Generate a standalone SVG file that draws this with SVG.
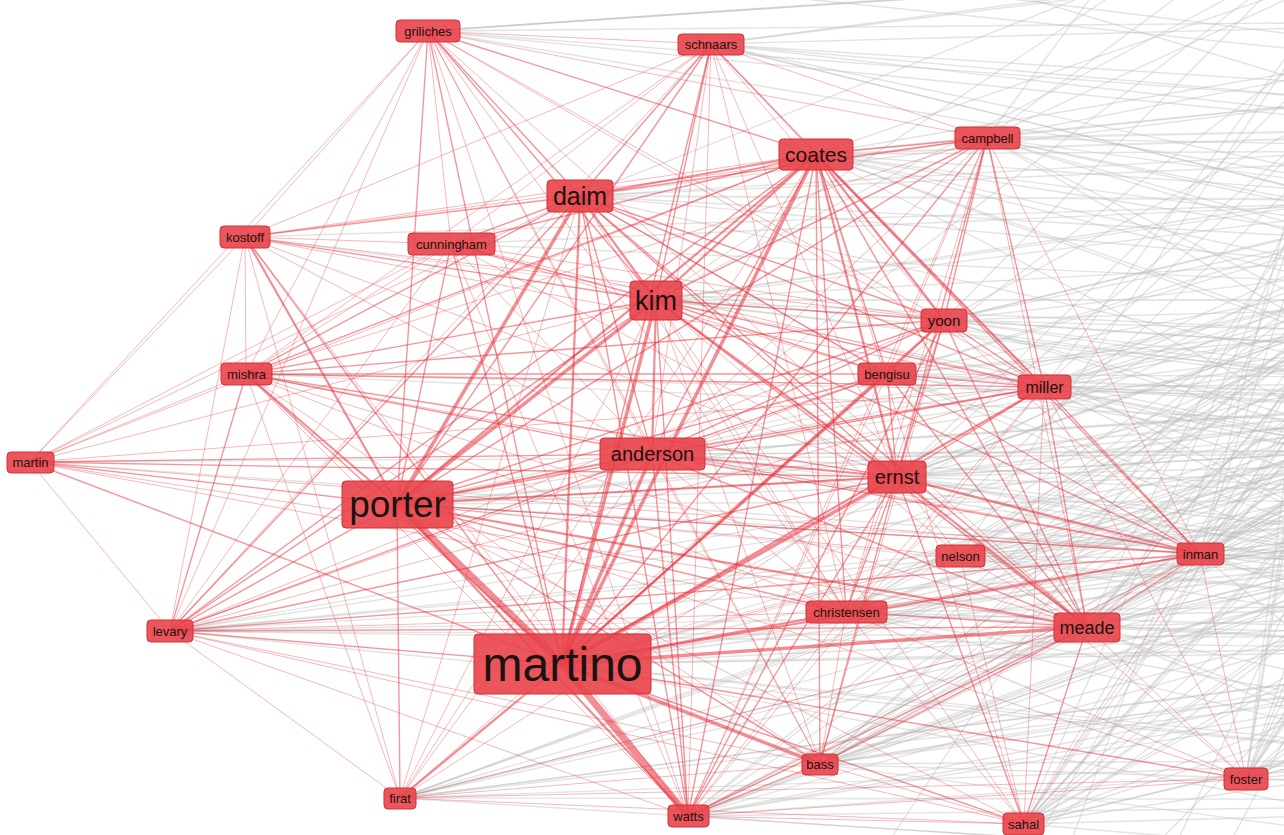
<svg xmlns="http://www.w3.org/2000/svg" width="1284" height="835" viewBox="0 0 1284 835">
<style>
.g{stroke:#bcbcbc;stroke-opacity:.42;stroke-width:1.4;fill:none}
.gw{stroke:#bcbcbc;stroke-opacity:.38;stroke-width:2.2;fill:none}
line.r1,line.r2,line.r3,line.r4,line.r5{stroke:#e8303a;fill:none}
.r1{stroke-width:1;stroke-opacity:.34}
.r2{stroke-width:1.4;stroke-opacity:.5}
.r3{stroke-width:2.2;stroke-opacity:.55}
.r4{stroke-width:3.5;stroke-opacity:.55}
.r5{stroke-width:7;stroke-opacity:.55}
.node rect{fill:#e8444a;fill-opacity:.9;stroke:#d52f36;stroke-width:1}
.node text{font-family:"Liberation Sans",Arial,sans-serif;fill:#1c1212;text-anchor:middle;dominant-baseline:central}
</style>
<rect width="1284" height="835" fill="#ffffff"/>
<g id="connectors">
<g id="outer-links">
<line class="g" x1="428" y1="31" x2="1350" y2="-30"/><line class="g" x1="428" y1="31" x2="1600" y2="20"/><line class="g" x1="428" y1="31" x2="1200" y2="-20"/><line class="g" x1="428" y1="31" x2="1450" y2="200"/><line class="g" x1="428" y1="31" x2="1100" y2="-15"/><line class="g" x1="428" y1="31" x2="1650" y2="150"/><line class="g" x1="428" y1="31" x2="1350" y2="100"/>
<line class="g" x1="711" y1="44" x2="1600" y2="20"/><line class="g" x1="711" y1="44" x2="1900" y2="120"/><line class="g" x1="711" y1="44" x2="1450" y2="200"/><line class="g" x1="711" y1="44" x2="1550" y2="-60"/><line class="g" x1="711" y1="44" x2="1750" y2="300"/><line class="g" x1="711" y1="44" x2="1200" y2="-20"/><line class="g" x1="711" y1="44" x2="1650" y2="150"/><line class="g" x1="711" y1="44" x2="1550" y2="250"/><line class="g" x1="711" y1="44" x2="1350" y2="100"/>
<line class="g" x1="987" y1="138" x2="1350" y2="-30"/><line class="g" x1="987" y1="138" x2="1600" y2="20"/><line class="gw" x1="987" y1="138" x2="1900" y2="120"/><line class="g" x1="987" y1="138" x2="1450" y2="200"/><line class="g" x1="987" y1="138" x2="1750" y2="300"/><line class="g" x1="987" y1="138" x2="1500" y2="400"/><line class="g" x1="987" y1="138" x2="2000" y2="450"/><line class="g" x1="987" y1="138" x2="1200" y2="-20"/><line class="g" x1="987" y1="138" x2="1100" y2="-15"/><line class="g" x1="987" y1="138" x2="1650" y2="150"/><line class="g" x1="987" y1="138" x2="1550" y2="250"/><line class="g" x1="987" y1="138" x2="1850" y2="380"/><line class="g" x1="987" y1="138" x2="1320" y2="330"/><line class="g" x1="987" y1="138" x2="1350" y2="100"/>
<line class="g" x1="816" y1="154" x2="1600" y2="20"/><line class="gw" x1="816" y1="154" x2="1900" y2="120"/><line class="g" x1="816" y1="154" x2="1450" y2="200"/><line class="g" x1="816" y1="154" x2="1750" y2="300"/><line class="g" x1="816" y1="154" x2="1500" y2="400"/><line class="g" x1="816" y1="154" x2="2000" y2="450"/><line class="g" x1="816" y1="154" x2="1350" y2="-30"/><line class="g" x1="816" y1="154" x2="1650" y2="150"/><line class="g" x1="816" y1="154" x2="1550" y2="250"/><line class="g" x1="816" y1="154" x2="1850" y2="380"/><line class="g" x1="816" y1="154" x2="1320" y2="330"/><line class="g" x1="816" y1="154" x2="1350" y2="100"/><line class="g" x1="816" y1="154" x2="1380" y2="450"/>
<line class="g" x1="580" y1="196" x2="1900" y2="120"/><line class="gw" x1="580" y1="196" x2="1450" y2="200"/><line class="g" x1="580" y1="196" x2="1750" y2="300"/><line class="g" x1="580" y1="196" x2="1500" y2="400"/><line class="g" x1="580" y1="196" x2="1150" y2="-30"/><line class="g" x1="580" y1="196" x2="1650" y2="150"/><line class="g" x1="580" y1="196" x2="1550" y2="250"/><line class="g" x1="580" y1="196" x2="1350" y2="100"/>
<line class="g" x1="656" y1="300" x2="1450" y2="200"/><line class="gw" x1="656" y1="300" x2="1750" y2="300"/><line class="g" x1="656" y1="300" x2="1500" y2="400"/><line class="g" x1="656" y1="300" x2="2000" y2="450"/><line class="g" x1="656" y1="300" x2="1900" y2="120"/><line class="g" x1="656" y1="300" x2="1150" y2="-30"/><line class="g" x1="656" y1="300" x2="1300" y2="-40"/><line class="g" x1="656" y1="300" x2="1650" y2="150"/><line class="g" x1="656" y1="300" x2="1550" y2="250"/><line class="g" x1="656" y1="300" x2="1850" y2="380"/><line class="g" x1="656" y1="300" x2="1320" y2="330"/><line class="g" x1="656" y1="300" x2="1380" y2="450"/>
<line class="g" x1="944" y1="320" x2="1900" y2="120"/><line class="g" x1="944" y1="320" x2="1450" y2="200"/><line class="g" x1="944" y1="320" x2="1750" y2="300"/><line class="g" x1="944" y1="320" x2="1500" y2="400"/><line class="g" x1="944" y1="320" x2="2000" y2="450"/><line class="g" x1="944" y1="320" x2="1400" y2="560"/><line class="g" x1="944" y1="320" x2="1300" y2="-40"/><line class="g" x1="944" y1="320" x2="1650" y2="150"/><line class="g" x1="944" y1="320" x2="1550" y2="250"/><line class="g" x1="944" y1="320" x2="1850" y2="380"/><line class="g" x1="944" y1="320" x2="1600" y2="500"/><line class="g" x1="944" y1="320" x2="1320" y2="330"/><line class="g" x1="944" y1="320" x2="1350" y2="100"/><line class="g" x1="944" y1="320" x2="1380" y2="450"/>
<line class="g" x1="887" y1="374" x2="1450" y2="200"/><line class="g" x1="887" y1="374" x2="1750" y2="300"/><line class="gw" x1="887" y1="374" x2="1500" y2="400"/><line class="g" x1="887" y1="374" x2="2000" y2="450"/><line class="g" x1="887" y1="374" x2="1400" y2="560"/><line class="g" x1="887" y1="374" x2="1420" y2="-30"/><line class="g" x1="887" y1="374" x2="1650" y2="150"/><line class="g" x1="887" y1="374" x2="1550" y2="250"/><line class="g" x1="887" y1="374" x2="1850" y2="380"/><line class="g" x1="887" y1="374" x2="1600" y2="500"/><line class="g" x1="887" y1="374" x2="1320" y2="330"/><line class="g" x1="887" y1="374" x2="1380" y2="450"/><line class="g" x1="887" y1="374" x2="1550" y2="650"/>
<line class="g" x1="1044" y1="387" x2="1350" y2="-30"/><line class="g" x1="1044" y1="387" x2="1900" y2="120"/><line class="g" x1="1044" y1="387" x2="1450" y2="200"/><line class="g" x1="1044" y1="387" x2="1750" y2="300"/><line class="g" x1="1044" y1="387" x2="1500" y2="400"/><line class="g" x1="1044" y1="387" x2="2000" y2="450"/><line class="g" x1="1044" y1="387" x2="1400" y2="560"/><line class="g" x1="1044" y1="387" x2="1800" y2="640"/><line class="g" x1="1044" y1="387" x2="1650" y2="150"/><line class="g" x1="1044" y1="387" x2="1550" y2="250"/><line class="g" x1="1044" y1="387" x2="1850" y2="380"/><line class="g" x1="1044" y1="387" x2="1600" y2="500"/><line class="g" x1="1044" y1="387" x2="1950" y2="600"/><line class="g" x1="1044" y1="387" x2="1320" y2="330"/><line class="g" x1="1044" y1="387" x2="1350" y2="100"/><line class="g" x1="1044" y1="387" x2="1380" y2="450"/>
<line class="g" x1="652" y1="454" x2="1750" y2="300"/><line class="gw" x1="652" y1="454" x2="1500" y2="400"/><line class="g" x1="652" y1="454" x2="2000" y2="450"/><line class="g" x1="652" y1="454" x2="1400" y2="560"/><line class="g" x1="652" y1="454" x2="1800" y2="640"/><line class="g" x1="652" y1="454" x2="1300" y2="-40"/><line class="g" x1="652" y1="454" x2="1550" y2="250"/><line class="g" x1="652" y1="454" x2="1850" y2="380"/><line class="g" x1="652" y1="454" x2="1600" y2="500"/><line class="g" x1="652" y1="454" x2="1950" y2="600"/><line class="g" x1="652" y1="454" x2="1320" y2="330"/><line class="g" x1="652" y1="454" x2="1380" y2="450"/>
<line class="g" x1="897" y1="477" x2="1900" y2="120"/><line class="g" x1="897" y1="477" x2="1750" y2="300"/><line class="gw" x1="897" y1="477" x2="1500" y2="400"/><line class="g" x1="897" y1="477" x2="2000" y2="450"/><line class="g" x1="897" y1="477" x2="1400" y2="560"/><line class="g" x1="897" y1="477" x2="1800" y2="640"/><line class="g" x1="897" y1="477" x2="1420" y2="-30"/><line class="g" x1="897" y1="477" x2="1650" y2="150"/><line class="g" x1="897" y1="477" x2="1550" y2="250"/><line class="g" x1="897" y1="477" x2="1850" y2="380"/><line class="g" x1="897" y1="477" x2="1600" y2="500"/><line class="g" x1="897" y1="477" x2="1950" y2="600"/><line class="g" x1="897" y1="477" x2="1550" y2="650"/><line class="g" x1="897" y1="477" x2="1320" y2="330"/><line class="g" x1="897" y1="477" x2="1350" y2="100"/><line class="g" x1="897" y1="477" x2="1380" y2="450"/>
<line class="gw" x1="397" y1="504" x2="1500" y2="400"/><line class="g" x1="397" y1="504" x2="2000" y2="450"/><line class="g" x1="397" y1="504" x2="1400" y2="560"/><line class="g" x1="397" y1="504" x2="1800" y2="640"/><line class="g" x1="397" y1="504" x2="1750" y2="300"/><line class="g" x1="397" y1="504" x2="1550" y2="250"/><line class="g" x1="397" y1="504" x2="1850" y2="380"/><line class="g" x1="397" y1="504" x2="1600" y2="500"/><line class="g" x1="397" y1="504" x2="1950" y2="600"/><line class="g" x1="397" y1="504" x2="1380" y2="450"/>
<line class="g" x1="960" y1="556" x2="1450" y2="200"/><line class="g" x1="960" y1="556" x2="1750" y2="300"/><line class="g" x1="960" y1="556" x2="1500" y2="400"/><line class="g" x1="960" y1="556" x2="2000" y2="450"/><line class="g" x1="960" y1="556" x2="1400" y2="560"/><line class="g" x1="960" y1="556" x2="1800" y2="640"/><line class="g" x1="960" y1="556" x2="1350" y2="-30"/><line class="g" x1="960" y1="556" x2="1650" y2="150"/><line class="g" x1="960" y1="556" x2="1550" y2="250"/><line class="g" x1="960" y1="556" x2="1850" y2="380"/><line class="g" x1="960" y1="556" x2="1600" y2="500"/><line class="g" x1="960" y1="556" x2="1950" y2="600"/><line class="g" x1="960" y1="556" x2="1550" y2="650"/><line class="g" x1="960" y1="556" x2="1320" y2="330"/><line class="g" x1="960" y1="556" x2="1380" y2="450"/>
<line class="g" x1="1200" y1="554" x2="1350" y2="-30"/><line class="g" x1="1200" y1="554" x2="1600" y2="20"/><line class="g" x1="1200" y1="554" x2="1450" y2="200"/><line class="g" x1="1200" y1="554" x2="1750" y2="300"/><line class="g" x1="1200" y1="554" x2="1500" y2="400"/><line class="g" x1="1200" y1="554" x2="2000" y2="450"/><line class="g" x1="1200" y1="554" x2="1400" y2="560"/><line class="g" x1="1200" y1="554" x2="1800" y2="640"/><line class="g" x1="1200" y1="554" x2="1450" y2="760"/><line class="g" x1="1200" y1="554" x2="1900" y2="120"/><line class="g" x1="1200" y1="554" x2="1650" y2="150"/><line class="g" x1="1200" y1="554" x2="1550" y2="250"/><line class="g" x1="1200" y1="554" x2="1850" y2="380"/><line class="g" x1="1200" y1="554" x2="1600" y2="500"/><line class="g" x1="1200" y1="554" x2="1950" y2="600"/><line class="g" x1="1200" y1="554" x2="1550" y2="650"/><line class="g" x1="1200" y1="554" x2="1900" y2="800"/><line class="g" x1="1200" y1="554" x2="1320" y2="330"/><line class="g" x1="1200" y1="554" x2="1350" y2="100"/><line class="g" x1="1200" y1="554" x2="1380" y2="450"/>
<line class="g" x1="846" y1="612" x2="1450" y2="200"/><line class="g" x1="846" y1="612" x2="1750" y2="300"/><line class="g" x1="846" y1="612" x2="1500" y2="400"/><line class="g" x1="846" y1="612" x2="2000" y2="450"/><line class="gw" x1="846" y1="612" x2="1400" y2="560"/><line class="g" x1="846" y1="612" x2="1800" y2="640"/><line class="g" x1="846" y1="612" x2="1450" y2="760"/><line class="g" x1="846" y1="612" x2="1550" y2="-60"/><line class="g" x1="846" y1="612" x2="1650" y2="150"/><line class="g" x1="846" y1="612" x2="1550" y2="250"/><line class="g" x1="846" y1="612" x2="1850" y2="380"/><line class="g" x1="846" y1="612" x2="1600" y2="500"/><line class="g" x1="846" y1="612" x2="1950" y2="600"/><line class="g" x1="846" y1="612" x2="1550" y2="650"/><line class="g" x1="846" y1="612" x2="1900" y2="800"/><line class="g" x1="846" y1="612" x2="1320" y2="330"/><line class="g" x1="846" y1="612" x2="1380" y2="450"/>
<line class="g" x1="1087" y1="627" x2="1450" y2="200"/><line class="g" x1="1087" y1="627" x2="1750" y2="300"/><line class="g" x1="1087" y1="627" x2="1500" y2="400"/><line class="g" x1="1087" y1="627" x2="2000" y2="450"/><line class="g" x1="1087" y1="627" x2="1400" y2="560"/><line class="g" x1="1087" y1="627" x2="1800" y2="640"/><line class="g" x1="1087" y1="627" x2="1450" y2="760"/><line class="g" x1="1087" y1="627" x2="1700" y2="880"/><line class="g" x1="1087" y1="627" x2="1900" y2="120"/><line class="g" x1="1087" y1="627" x2="1600" y2="20"/><line class="g" x1="1087" y1="627" x2="1650" y2="150"/><line class="g" x1="1087" y1="627" x2="1550" y2="250"/><line class="g" x1="1087" y1="627" x2="1850" y2="380"/><line class="g" x1="1087" y1="627" x2="1600" y2="500"/><line class="g" x1="1087" y1="627" x2="1950" y2="600"/><line class="g" x1="1087" y1="627" x2="1550" y2="650"/><line class="g" x1="1087" y1="627" x2="1900" y2="800"/><line class="g" x1="1087" y1="627" x2="1320" y2="330"/><line class="g" x1="1087" y1="627" x2="1350" y2="100"/><line class="g" x1="1087" y1="627" x2="1380" y2="450"/>
<line class="g" x1="170" y1="631" x2="2000" y2="450"/><line class="g" x1="170" y1="631" x2="1400" y2="560"/><line class="g" x1="170" y1="631" x2="1800" y2="640"/><line class="g" x1="170" y1="631" x2="1450" y2="760"/><line class="g" x1="170" y1="631" x2="1500" y2="400"/><line class="g" x1="170" y1="631" x2="1600" y2="500"/><line class="g" x1="170" y1="631" x2="1950" y2="600"/><line class="g" x1="170" y1="631" x2="1550" y2="650"/><line class="g" x1="170" y1="631" x2="1380" y2="450"/>
<line class="g" x1="562" y1="664" x2="1500" y2="400"/><line class="g" x1="562" y1="664" x2="2000" y2="450"/><line class="gw" x1="562" y1="664" x2="1400" y2="560"/><line class="gw" x1="562" y1="664" x2="1800" y2="640"/><line class="g" x1="562" y1="664" x2="1450" y2="760"/><line class="g" x1="562" y1="664" x2="1700" y2="880"/><line class="g" x1="562" y1="664" x2="1750" y2="300"/><line class="g" x1="562" y1="664" x2="1450" y2="200"/><line class="g" x1="562" y1="664" x2="1550" y2="250"/><line class="g" x1="562" y1="664" x2="1850" y2="380"/><line class="g" x1="562" y1="664" x2="1600" y2="500"/><line class="g" x1="562" y1="664" x2="1950" y2="600"/><line class="g" x1="562" y1="664" x2="1550" y2="650"/><line class="g" x1="562" y1="664" x2="1900" y2="800"/><line class="g" x1="562" y1="664" x2="1380" y2="450"/>
<line class="g" x1="820" y1="764" x2="1750" y2="300"/><line class="g" x1="820" y1="764" x2="1500" y2="400"/><line class="g" x1="820" y1="764" x2="2000" y2="450"/><line class="g" x1="820" y1="764" x2="1400" y2="560"/><line class="g" x1="820" y1="764" x2="1800" y2="640"/><line class="g" x1="820" y1="764" x2="1450" y2="760"/><line class="g" x1="820" y1="764" x2="1700" y2="880"/><line class="g" x1="820" y1="764" x2="1450" y2="200"/><line class="g" x1="820" y1="764" x2="1900" y2="120"/><line class="g" x1="820" y1="764" x2="1650" y2="150"/><line class="g" x1="820" y1="764" x2="1550" y2="250"/><line class="g" x1="820" y1="764" x2="1850" y2="380"/><line class="g" x1="820" y1="764" x2="1600" y2="500"/><line class="g" x1="820" y1="764" x2="1950" y2="600"/><line class="g" x1="820" y1="764" x2="1550" y2="650"/><line class="g" x1="820" y1="764" x2="1900" y2="800"/><line class="g" x1="820" y1="764" x2="1320" y2="330"/><line class="g" x1="820" y1="764" x2="1380" y2="450"/>
<line class="g" x1="400" y1="798" x2="1500" y2="400"/><line class="g" x1="400" y1="798" x2="2000" y2="450"/><line class="g" x1="400" y1="798" x2="1400" y2="560"/><line class="g" x1="400" y1="798" x2="1800" y2="640"/><line class="g" x1="400" y1="798" x2="1450" y2="760"/><line class="g" x1="400" y1="798" x2="1700" y2="880"/><line class="g" x1="400" y1="798" x2="1750" y2="300"/><line class="g" x1="400" y1="798" x2="1850" y2="380"/><line class="g" x1="400" y1="798" x2="1600" y2="500"/><line class="g" x1="400" y1="798" x2="1950" y2="600"/><line class="g" x1="400" y1="798" x2="1550" y2="650"/><line class="g" x1="400" y1="798" x2="1900" y2="800"/><line class="g" x1="400" y1="798" x2="1380" y2="450"/>
<line class="g" x1="688" y1="816" x2="1750" y2="300"/><line class="g" x1="688" y1="816" x2="1500" y2="400"/><line class="g" x1="688" y1="816" x2="2000" y2="450"/><line class="g" x1="688" y1="816" x2="1400" y2="560"/><line class="g" x1="688" y1="816" x2="1800" y2="640"/><line class="g" x1="688" y1="816" x2="1450" y2="760"/><line class="g" x1="688" y1="816" x2="1700" y2="880"/><line class="g" x1="688" y1="816" x2="1450" y2="200"/><line class="g" x1="688" y1="816" x2="1550" y2="250"/><line class="g" x1="688" y1="816" x2="1850" y2="380"/><line class="g" x1="688" y1="816" x2="1600" y2="500"/><line class="g" x1="688" y1="816" x2="1950" y2="600"/><line class="g" x1="688" y1="816" x2="1550" y2="650"/><line class="g" x1="688" y1="816" x2="1900" y2="800"/><line class="g" x1="688" y1="816" x2="1320" y2="330"/><line class="g" x1="688" y1="816" x2="1380" y2="450"/>
<line class="g" x1="1024" y1="824" x2="1900" y2="120"/><line class="g" x1="1024" y1="824" x2="1450" y2="200"/><line class="g" x1="1024" y1="824" x2="1750" y2="300"/><line class="g" x1="1024" y1="824" x2="1500" y2="400"/><line class="g" x1="1024" y1="824" x2="2000" y2="450"/><line class="g" x1="1024" y1="824" x2="1400" y2="560"/><line class="g" x1="1024" y1="824" x2="1800" y2="640"/><line class="g" x1="1024" y1="824" x2="1450" y2="760"/><line class="g" x1="1024" y1="824" x2="1700" y2="880"/><line class="g" x1="1024" y1="824" x2="1600" y2="20"/><line class="g" x1="1024" y1="824" x2="1650" y2="150"/><line class="g" x1="1024" y1="824" x2="1550" y2="250"/><line class="g" x1="1024" y1="824" x2="1850" y2="380"/><line class="g" x1="1024" y1="824" x2="1600" y2="500"/><line class="g" x1="1024" y1="824" x2="1950" y2="600"/><line class="g" x1="1024" y1="824" x2="1550" y2="650"/><line class="g" x1="1024" y1="824" x2="1900" y2="800"/><line class="g" x1="1024" y1="824" x2="1320" y2="330"/><line class="g" x1="1024" y1="824" x2="1350" y2="100"/><line class="g" x1="1024" y1="824" x2="1380" y2="450"/>
<line class="g" x1="1246" y1="779" x2="1600" y2="20"/><line class="g" x1="1246" y1="779" x2="1450" y2="200"/><line class="g" x1="1246" y1="779" x2="1750" y2="300"/><line class="g" x1="1246" y1="779" x2="1500" y2="400"/><line class="g" x1="1246" y1="779" x2="2000" y2="450"/><line class="g" x1="1246" y1="779" x2="1400" y2="560"/><line class="g" x1="1246" y1="779" x2="1800" y2="640"/><line class="g" x1="1246" y1="779" x2="1450" y2="760"/><line class="g" x1="1246" y1="779" x2="1350" y2="-30"/><line class="g" x1="1246" y1="779" x2="1650" y2="150"/><line class="g" x1="1246" y1="779" x2="1550" y2="250"/><line class="g" x1="1246" y1="779" x2="1850" y2="380"/><line class="g" x1="1246" y1="779" x2="1600" y2="500"/><line class="g" x1="1246" y1="779" x2="1950" y2="600"/><line class="g" x1="1246" y1="779" x2="1550" y2="650"/><line class="g" x1="1246" y1="779" x2="1900" y2="800"/><line class="g" x1="1246" y1="779" x2="1320" y2="330"/><line class="g" x1="1246" y1="779" x2="1350" y2="100"/><line class="g" x1="1246" y1="779" x2="1380" y2="450"/>
<line class="g" x1="245" y1="237" x2="1450" y2="200"/><line class="g" x1="245" y1="237" x2="1500" y2="400"/>
<line class="g" x1="246" y1="374" x2="1500" y2="400"/><line class="g" x1="246" y1="374" x2="2000" y2="450"/>
<line class="g" x1="451" y1="244" x2="1450" y2="200"/><line class="g" x1="451" y1="244" x2="1750" y2="300"/>
<line class="g" x1="30" y1="462" x2="2000" y2="450"/><line class="g" x1="30" y1="462" x2="1400" y2="560"/>
<line class="g" x1="520" y1="-30" x2="1600" y2="80"/><line class="g" x1="900" y1="-40" x2="1700" y2="200"/><line class="g" x1="1000" y1="900" x2="1600" y2="-100"/><line class="g" x1="1100" y1="900" x2="1900" y2="100"/><line class="g" x1="1200" y1="900" x2="1700" y2="-50"/><line class="g" x1="850" y1="900" x2="1500" y2="-80"/><line class="g" x1="950" y1="900" x2="1800" y2="250"/><line class="g" x1="1150" y1="900" x2="1500" y2="150"/><line class="g" x1="1050" y1="900" x2="1400" y2="-60"/><line class="g" x1="780" y1="-30" x2="1500" y2="60"/>
</g>
<g id="links">
<line class="r5" x1="562" y1="664" x2="397" y2="504"/><line class="r5" x1="562" y1="664" x2="688" y2="816"/><line class="r4" x1="562" y1="664" x2="656" y2="300"/><line class="r4" x1="562" y1="664" x2="816" y2="154"/><line class="r4" x1="562" y1="664" x2="652" y2="454"/><line class="r3" x1="562" y1="664" x2="580" y2="196"/><line class="r4" x1="562" y1="664" x2="897" y2="477"/><line class="r4" x1="562" y1="664" x2="1087" y2="627"/><line class="r4" x1="562" y1="664" x2="820" y2="764"/><line class="r3" x1="562" y1="664" x2="1044" y2="387"/><line class="r3" x1="562" y1="664" x2="944" y2="320"/><line class="r3" x1="562" y1="664" x2="887" y2="374"/><line class="r3" x1="562" y1="664" x2="846" y2="612"/><line class="r3" x1="562" y1="664" x2="1200" y2="554"/><line class="r3" x1="562" y1="664" x2="400" y2="798"/><line class="r2" x1="562" y1="664" x2="170" y2="631"/><line class="r2" x1="562" y1="664" x2="246" y2="374"/><line class="r2" x1="562" y1="664" x2="245" y2="237"/><line class="r2" x1="562" y1="664" x2="428" y2="31"/><line class="r2" x1="562" y1="664" x2="711" y2="44"/><line class="r2" x1="562" y1="664" x2="987" y2="138"/><line class="r2" x1="562" y1="664" x2="451" y2="244"/><line class="r2" x1="562" y1="664" x2="1024" y2="824"/><line class="r2" x1="562" y1="664" x2="1246" y2="779"/><line class="r2" x1="562" y1="664" x2="30" y2="462"/><line class="r1" x1="562" y1="664" x2="960" y2="556"/>
<line class="r4" x1="397" y1="504" x2="580" y2="196"/><line class="r4" x1="397" y1="504" x2="656" y2="300"/><line class="r3" x1="397" y1="504" x2="652" y2="454"/><line class="r3" x1="397" y1="504" x2="816" y2="154"/><line class="r3" x1="397" y1="504" x2="897" y2="477"/><line class="r3" x1="397" y1="504" x2="1087" y2="627"/><line class="r3" x1="397" y1="504" x2="688" y2="816"/><line class="r3" x1="397" y1="504" x2="245" y2="237"/><line class="r3" x1="397" y1="504" x2="246" y2="374"/><line class="r2" x1="397" y1="504" x2="428" y2="31"/><line class="r2" x1="397" y1="504" x2="711" y2="44"/><line class="r2" x1="397" y1="504" x2="451" y2="244"/><line class="r2" x1="397" y1="504" x2="944" y2="320"/><line class="r2" x1="397" y1="504" x2="1044" y2="387"/><line class="r2" x1="397" y1="504" x2="887" y2="374"/><line class="r2" x1="397" y1="504" x2="170" y2="631"/><line class="r2" x1="397" y1="504" x2="30" y2="462"/><line class="r2" x1="397" y1="504" x2="400" y2="798"/><line class="r2" x1="397" y1="504" x2="820" y2="764"/><line class="r2" x1="397" y1="504" x2="846" y2="612"/><line class="r2" x1="397" y1="504" x2="1200" y2="554"/><line class="r2" x1="397" y1="504" x2="987" y2="138"/><line class="r1" x1="397" y1="504" x2="1024" y2="824"/><line class="r1" x1="397" y1="504" x2="1246" y2="779"/><line class="r1" x1="397" y1="504" x2="960" y2="556"/>
<line class="r3" x1="656" y1="300" x2="580" y2="196"/><line class="r3" x1="656" y1="300" x2="816" y2="154"/><line class="r3" x1="656" y1="300" x2="652" y2="454"/><line class="r3" x1="656" y1="300" x2="897" y2="477"/><line class="r2" x1="656" y1="300" x2="944" y2="320"/><line class="r2" x1="656" y1="300" x2="1044" y2="387"/><line class="r2" x1="656" y1="300" x2="887" y2="374"/><line class="r2" x1="656" y1="300" x2="1087" y2="627"/><line class="r2" x1="656" y1="300" x2="688" y2="816"/><line class="r2" x1="656" y1="300" x2="711" y2="44"/><line class="r2" x1="656" y1="300" x2="428" y2="31"/><line class="r2" x1="656" y1="300" x2="246" y2="374"/><line class="r2" x1="656" y1="300" x2="245" y2="237"/><line class="r2" x1="656" y1="300" x2="451" y2="244"/><line class="r2" x1="656" y1="300" x2="987" y2="138"/><line class="r2" x1="656" y1="300" x2="170" y2="631"/><line class="r1" x1="656" y1="300" x2="400" y2="798"/><line class="r1" x1="656" y1="300" x2="30" y2="462"/><line class="r2" x1="656" y1="300" x2="1200" y2="554"/><line class="r1" x1="656" y1="300" x2="846" y2="612"/><line class="r1" x1="656" y1="300" x2="820" y2="764"/><line class="r1" x1="656" y1="300" x2="1024" y2="824"/><line class="r1" x1="656" y1="300" x2="960" y2="556"/>
<line class="r3" x1="580" y1="196" x2="816" y2="154"/><line class="r2" x1="580" y1="196" x2="652" y2="454"/><line class="r2" x1="580" y1="196" x2="897" y2="477"/><line class="r2" x1="580" y1="196" x2="944" y2="320"/><line class="r2" x1="580" y1="196" x2="1044" y2="387"/><line class="r2" x1="580" y1="196" x2="887" y2="374"/><line class="r2" x1="580" y1="196" x2="428" y2="31"/><line class="r2" x1="580" y1="196" x2="711" y2="44"/><line class="r2" x1="580" y1="196" x2="245" y2="237"/><line class="r2" x1="580" y1="196" x2="451" y2="244"/><line class="r2" x1="580" y1="196" x2="246" y2="374"/><line class="r2" x1="580" y1="196" x2="688" y2="816"/><line class="r2" x1="580" y1="196" x2="1087" y2="627"/><line class="r2" x1="580" y1="196" x2="170" y2="631"/><line class="r1" x1="580" y1="196" x2="30" y2="462"/><line class="r1" x1="580" y1="196" x2="400" y2="798"/><line class="r2" x1="580" y1="196" x2="987" y2="138"/><line class="r1" x1="580" y1="196" x2="1200" y2="554"/><line class="r1" x1="580" y1="196" x2="846" y2="612"/>
<line class="r2" x1="816" y1="154" x2="652" y2="454"/><line class="r3" x1="816" y1="154" x2="897" y2="477"/><line class="r3" x1="816" y1="154" x2="944" y2="320"/><line class="r3" x1="816" y1="154" x2="1044" y2="387"/><line class="r2" x1="816" y1="154" x2="887" y2="374"/><line class="r2" x1="816" y1="154" x2="1087" y2="627"/><line class="r2" x1="816" y1="154" x2="688" y2="816"/><line class="r2" x1="816" y1="154" x2="428" y2="31"/><line class="r2" x1="816" y1="154" x2="711" y2="44"/><line class="r2" x1="816" y1="154" x2="987" y2="138"/><line class="r2" x1="816" y1="154" x2="246" y2="374"/><line class="r1" x1="816" y1="154" x2="245" y2="237"/><line class="r2" x1="816" y1="154" x2="451" y2="244"/><line class="r2" x1="816" y1="154" x2="170" y2="631"/><line class="r1" x1="816" y1="154" x2="400" y2="798"/><line class="r2" x1="816" y1="154" x2="846" y2="612"/><line class="r2" x1="816" y1="154" x2="1200" y2="554"/><line class="r2" x1="816" y1="154" x2="820" y2="764"/><line class="r1" x1="816" y1="154" x2="1024" y2="824"/><line class="r1" x1="816" y1="154" x2="30" y2="462"/>
<line class="r3" x1="652" y1="454" x2="897" y2="477"/><line class="r2" x1="652" y1="454" x2="944" y2="320"/><line class="r2" x1="652" y1="454" x2="1044" y2="387"/><line class="r2" x1="652" y1="454" x2="887" y2="374"/><line class="r2" x1="652" y1="454" x2="1087" y2="627"/><line class="r2" x1="652" y1="454" x2="688" y2="816"/><line class="r2" x1="652" y1="454" x2="246" y2="374"/><line class="r1" x1="652" y1="454" x2="245" y2="237"/><line class="r2" x1="652" y1="454" x2="170" y2="631"/><line class="r2" x1="652" y1="454" x2="30" y2="462"/><line class="r1" x1="652" y1="454" x2="451" y2="244"/><line class="r1" x1="652" y1="454" x2="711" y2="44"/><line class="r1" x1="652" y1="454" x2="428" y2="31"/><line class="r1" x1="652" y1="454" x2="987" y2="138"/><line class="r2" x1="652" y1="454" x2="1200" y2="554"/><line class="r1" x1="652" y1="454" x2="846" y2="612"/><line class="r1" x1="652" y1="454" x2="400" y2="798"/><line class="r1" x1="652" y1="454" x2="820" y2="764"/>
<line class="r2" x1="897" y1="477" x2="944" y2="320"/><line class="r2" x1="897" y1="477" x2="1044" y2="387"/><line class="r2" x1="897" y1="477" x2="887" y2="374"/><line class="r3" x1="897" y1="477" x2="1087" y2="627"/><line class="r3" x1="897" y1="477" x2="1200" y2="554"/><line class="r2" x1="897" y1="477" x2="688" y2="816"/><line class="r2" x1="897" y1="477" x2="820" y2="764"/><line class="r2" x1="897" y1="477" x2="1024" y2="824"/><line class="r2" x1="897" y1="477" x2="846" y2="612"/><line class="r2" x1="897" y1="477" x2="987" y2="138"/><line class="r2" x1="897" y1="477" x2="246" y2="374"/><line class="r2" x1="897" y1="477" x2="170" y2="631"/><line class="r2" x1="897" y1="477" x2="30" y2="462"/><line class="r1" x1="897" y1="477" x2="400" y2="798"/><line class="r1" x1="897" y1="477" x2="451" y2="244"/><line class="r1" x1="897" y1="477" x2="245" y2="237"/><line class="r1" x1="897" y1="477" x2="711" y2="44"/><line class="r1" x1="897" y1="477" x2="1246" y2="779"/><line class="r1" x1="897" y1="477" x2="960" y2="556"/>
<line class="r2" x1="1087" y1="627" x2="1044" y2="387"/><line class="r2" x1="1087" y1="627" x2="944" y2="320"/><line class="r2" x1="1087" y1="627" x2="887" y2="374"/><line class="r2" x1="1087" y1="627" x2="1200" y2="554"/><line class="r2" x1="1087" y1="627" x2="846" y2="612"/><line class="r2" x1="1087" y1="627" x2="820" y2="764"/><line class="r2" x1="1087" y1="627" x2="688" y2="816"/><line class="r2" x1="1087" y1="627" x2="1024" y2="824"/><line class="r1" x1="1087" y1="627" x2="1246" y2="779"/><line class="r2" x1="1087" y1="627" x2="170" y2="631"/><line class="r1" x1="1087" y1="627" x2="246" y2="374"/><line class="r1" x1="1087" y1="627" x2="987" y2="138"/><line class="r1" x1="1087" y1="627" x2="400" y2="798"/><line class="r1" x1="1087" y1="627" x2="30" y2="462"/><line class="r1" x1="1087" y1="627" x2="960" y2="556"/>
<line class="r2" x1="1044" y1="387" x2="944" y2="320"/><line class="r2" x1="1044" y1="387" x2="887" y2="374"/><line class="r2" x1="1044" y1="387" x2="1200" y2="554"/><line class="r2" x1="1044" y1="387" x2="987" y2="138"/><line class="r2" x1="1044" y1="387" x2="246" y2="374"/><line class="r1" x1="1044" y1="387" x2="170" y2="631"/><line class="r1" x1="1044" y1="387" x2="688" y2="816"/><line class="r1" x1="1044" y1="387" x2="846" y2="612"/><line class="r1" x1="1044" y1="387" x2="245" y2="237"/><line class="r1" x1="1044" y1="387" x2="451" y2="244"/><line class="r1" x1="1044" y1="387" x2="1024" y2="824"/><line class="r1" x1="1044" y1="387" x2="1246" y2="779"/><line class="r1" x1="1044" y1="387" x2="30" y2="462"/><line class="r1" x1="1044" y1="387" x2="711" y2="44"/><line class="r1" x1="1044" y1="387" x2="428" y2="31"/>
<line class="r2" x1="944" y1="320" x2="887" y2="374"/><line class="r2" x1="944" y1="320" x2="987" y2="138"/><line class="r1" x1="944" y1="320" x2="711" y2="44"/><line class="r2" x1="944" y1="320" x2="246" y2="374"/><line class="r1" x1="944" y1="320" x2="451" y2="244"/><line class="r1" x1="944" y1="320" x2="245" y2="237"/><line class="r2" x1="944" y1="320" x2="688" y2="816"/><line class="r1" x1="944" y1="320" x2="820" y2="764"/><line class="r1" x1="944" y1="320" x2="1200" y2="554"/><line class="r1" x1="944" y1="320" x2="170" y2="631"/><line class="r1" x1="944" y1="320" x2="846" y2="612"/><line class="r1" x1="944" y1="320" x2="428" y2="31"/>
<line class="r1" x1="887" y1="374" x2="987" y2="138"/><line class="r2" x1="887" y1="374" x2="246" y2="374"/><line class="r1" x1="887" y1="374" x2="170" y2="631"/><line class="r1" x1="887" y1="374" x2="688" y2="816"/><line class="r1" x1="887" y1="374" x2="451" y2="244"/><line class="r1" x1="887" y1="374" x2="400" y2="798"/><line class="r1" x1="887" y1="374" x2="1200" y2="554"/>
<line class="r1" x1="987" y1="138" x2="711" y2="44"/><line class="r1" x1="987" y1="138" x2="428" y2="31"/><line class="r1" x1="987" y1="138" x2="1200" y2="554"/><line class="r1" x1="987" y1="138" x2="246" y2="374"/><line class="r1" x1="987" y1="138" x2="846" y2="612"/><line class="r1" x1="987" y1="138" x2="245" y2="237"/><line class="r1" x1="987" y1="138" x2="688" y2="816"/>
<line class="r1" x1="428" y1="31" x2="245" y2="237"/><line class="r1" x1="428" y1="31" x2="246" y2="374"/><line class="r1" x1="428" y1="31" x2="711" y2="44"/><line class="r1" x1="428" y1="31" x2="451" y2="244"/><line class="r1" x1="428" y1="31" x2="30" y2="462"/><line class="r1" x1="428" y1="31" x2="170" y2="631"/><line class="r1" x1="428" y1="31" x2="688" y2="816"/><line class="r1" x1="428" y1="31" x2="820" y2="764"/><line class="r1" x1="428" y1="31" x2="846" y2="612"/><line class="r1" x1="428" y1="31" x2="1087" y2="627"/>
<line class="r1" x1="711" y1="44" x2="451" y2="244"/><line class="r1" x1="711" y1="44" x2="245" y2="237"/><line class="r1" x1="711" y1="44" x2="246" y2="374"/><line class="r1" x1="711" y1="44" x2="688" y2="816"/><line class="r1" x1="711" y1="44" x2="170" y2="631"/><line class="r1" x1="711" y1="44" x2="846" y2="612"/>
<line class="r1" x1="245" y1="237" x2="246" y2="374"/><line class="r1" x1="245" y1="237" x2="30" y2="462"/><line class="r1" x1="245" y1="237" x2="170" y2="631"/><line class="r1" x1="245" y1="237" x2="451" y2="244"/><line class="r1" x1="245" y1="237" x2="688" y2="816"/><line class="r1" x1="245" y1="237" x2="400" y2="798"/>
<line class="r1" x1="451" y1="244" x2="246" y2="374"/><line class="r1" x1="451" y1="244" x2="170" y2="631"/><line class="r1" x1="451" y1="244" x2="688" y2="816"/><line class="r1" x1="451" y1="244" x2="30" y2="462"/>
<line class="r1" x1="246" y1="374" x2="30" y2="462"/><line class="r2" x1="246" y1="374" x2="170" y2="631"/><line class="r1" x1="246" y1="374" x2="400" y2="798"/><line class="r1" x1="246" y1="374" x2="688" y2="816"/><line class="r1" x1="246" y1="374" x2="1200" y2="554"/><line class="r1" x1="246" y1="374" x2="846" y2="612"/><line class="r1" x1="246" y1="374" x2="820" y2="764"/>
<line class="r1" x1="30" y1="462" x2="170" y2="631"/><line class="r1" x1="30" y1="462" x2="1200" y2="554"/><line class="r1" x1="30" y1="462" x2="846" y2="612"/>
<line class="r1" x1="170" y1="631" x2="400" y2="798"/><line class="r2" x1="170" y1="631" x2="1200" y2="554"/><line class="r1" x1="170" y1="631" x2="846" y2="612"/><line class="r1" x1="170" y1="631" x2="688" y2="816"/><line class="r1" x1="170" y1="631" x2="820" y2="764"/><line class="r1" x1="170" y1="631" x2="1024" y2="824"/>
<line class="r1" x1="846" y1="612" x2="1200" y2="554"/><line class="r1" x1="846" y1="612" x2="820" y2="764"/><line class="r1" x1="846" y1="612" x2="688" y2="816"/><line class="r1" x1="846" y1="612" x2="1024" y2="824"/><line class="r1" x1="846" y1="612" x2="1246" y2="779"/>
<line class="r1" x1="1200" y1="554" x2="1246" y2="779"/><line class="r1" x1="1200" y1="554" x2="1024" y2="824"/><line class="r1" x1="1200" y1="554" x2="820" y2="764"/><line class="r1" x1="1200" y1="554" x2="688" y2="816"/>
<line class="r2" x1="820" y1="764" x2="688" y2="816"/><line class="r1" x1="820" y1="764" x2="1024" y2="824"/><line class="r1" x1="820" y1="764" x2="400" y2="798"/>
<line class="r1" x1="1024" y1="824" x2="688" y2="816"/><line class="r1" x1="1024" y1="824" x2="400" y2="798"/><line class="r1" x1="1246" y1="779" x2="688" y2="816"/><line class="r1" x1="1246" y1="779" x2="400" y2="798"/><line class="r1" x1="960" y1="556" x2="1024" y2="824"/>
</g>
</g>
<g id="nodes">
<g id="n-griliches" class="node"><rect x="396" y="20" width="64" height="22" rx="4"/><text x="428" y="31" font-size="13">griliches</text></g>
<g id="n-schnaars" class="node"><rect x="678" y="34" width="66" height="21" rx="4"/><text x="711" y="44.5" font-size="13">schnaars</text></g>
<g id="n-campbell" class="node"><rect x="955" y="127" width="65" height="22" rx="4"/><text x="987.5" y="138" font-size="13">campbell</text></g>
<g id="n-coates" class="node"><rect x="779" y="139" width="74" height="31" rx="4"/><text x="816" y="154.5" font-size="21">coates</text></g>
<g id="n-daim" class="node"><rect x="547" y="180" width="66" height="32" rx="4"/><text x="580" y="196" font-size="25">daim</text></g>
<g id="n-kostoff" class="node"><rect x="220" y="226" width="50" height="22" rx="4"/><text x="245" y="237" font-size="13">kostoff</text></g>
<g id="n-cunningham" class="node"><rect x="408" y="233" width="87" height="22" rx="4"/><text x="451.5" y="244" font-size="13">cunningham</text></g>
<g id="n-kim" class="node"><rect x="630" y="281" width="52" height="39" rx="4"/><text x="656" y="300.5" font-size="27">kim</text></g>
<g id="n-yoon" class="node"><rect x="921" y="309" width="46" height="23" rx="4"/><text x="944" y="320.5" font-size="15">yoon</text></g>
<g id="n-mishra" class="node"><rect x="221" y="363" width="51" height="22" rx="4"/><text x="246.5" y="374" font-size="13">mishra</text></g>
<g id="n-bengisu" class="node"><rect x="858" y="363" width="58" height="22" rx="4"/><text x="887" y="374" font-size="13">bengisu</text></g>
<g id="n-miller" class="node"><rect x="1018" y="375" width="53" height="24" rx="4"/><text x="1044.5" y="387" font-size="16">miller</text></g>
<g id="n-martin" class="node"><rect x="7" y="452" width="47" height="21" rx="4"/><text x="30.5" y="462.5" font-size="13">martin</text></g>
<g id="n-anderson" class="node"><rect x="600" y="438" width="105" height="32" rx="4"/><text x="652.5" y="454" font-size="20">anderson</text></g>
<g id="n-ernst" class="node"><rect x="868" y="461" width="58" height="32" rx="4"/><text x="897" y="477" font-size="20">ernst</text></g>
<g id="n-porter" class="node"><rect x="342" y="481" width="111" height="47" rx="4"/><text x="397.5" y="504.5" font-size="37">porter</text></g>
<g id="n-nelson" class="node"><rect x="936" y="545" width="49" height="22" rx="4"/><text x="960.5" y="556" font-size="13">nelson</text></g>
<g id="n-inman" class="node"><rect x="1177" y="543" width="47" height="22" rx="4"/><text x="1200.5" y="554" font-size="13">inman</text></g>
<g id="n-christensen" class="node"><rect x="806" y="601" width="81" height="22" rx="4"/><text x="846.5" y="612" font-size="13">christensen</text></g>
<g id="n-meade" class="node"><rect x="1054" y="613" width="66" height="29" rx="4"/><text x="1087" y="627.5" font-size="18">meade</text></g>
<g id="n-levary" class="node"><rect x="147" y="620" width="46" height="22" rx="4"/><text x="170" y="631" font-size="13">levary</text></g>
<g id="n-martino" class="node"><rect x="474" y="634" width="177" height="60" rx="4"/><text x="562.5" y="664" font-size="48">martino</text></g>
<g id="n-bass" class="node"><rect x="802" y="754" width="36" height="21" rx="4"/><text x="820" y="764.5" font-size="13">bass</text></g>
<g id="n-firat" class="node"><rect x="384" y="788" width="32" height="21" rx="4"/><text x="400" y="798.5" font-size="13">firat</text></g>
<g id="n-watts" class="node"><rect x="668" y="805" width="41" height="22" rx="4"/><text x="688.5" y="816" font-size="13">watts</text></g>
<g id="n-foster" class="node"><rect x="1224" y="768" width="44" height="22" rx="4"/><text x="1246" y="779" font-size="13">foster</text></g>
<g id="n-sahal" class="node"><rect x="1003" y="813" width="41" height="22" rx="4"/><text x="1023.5" y="824" font-size="13">sahal</text></g>
</g>
</svg>
